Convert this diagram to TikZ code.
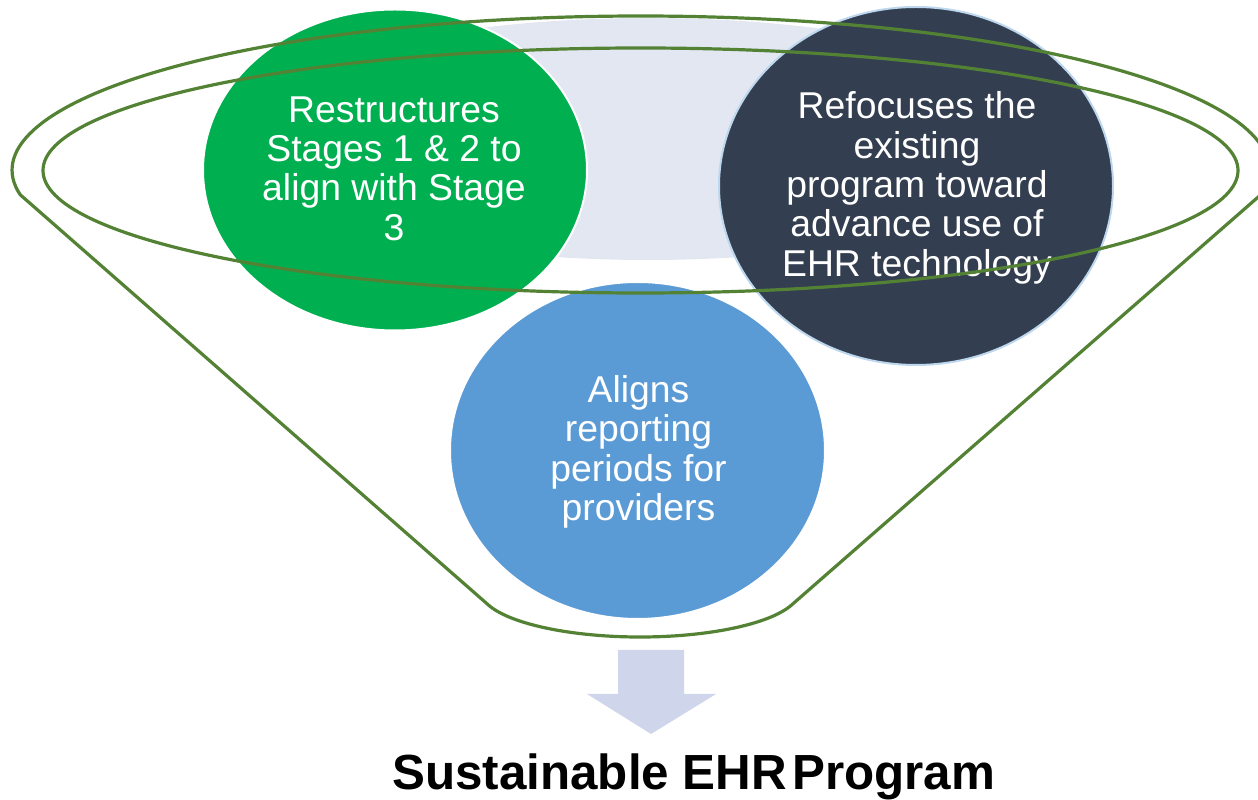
\documentclass[tikz,border=0pt]{standalone}
\usepackage{fontspec}
\setmainfont{Liberation Sans}
\usetikzlibrary{shapes.geometric}
\definecolor{funnelgreen}{RGB}{84,130,53}
\definecolor{bubblegreen}{RGB}{0,176,80}
\definecolor{bubbledark}{RGB}{51,63,80}
\definecolor{bubbleblue}{RGB}{91,155,213}
\definecolor{darkrim}{RGB}{189,215,238}
\definecolor{bowlfill}{RGB}{227,231,242}
\definecolor{arrowfill}{RGB}{207,213,234}
\begin{document}
\begin{tikzpicture}[x=0.75pt,y=0.75pt,
  bubble/.style={ellipse, inner sep=0pt, outer sep=0pt, line width=1.5pt},
  bubbletext/.style={text=white, align=center, inner sep=0pt,
    font=\fontsize{28pt}{29.5pt}\selectfont},
  funnel/.style={draw=funnelgreen, line width=2.4pt, line join=round}]
\useasboundingbox (0,0) rectangle (1258,800);
\clip (0,0) rectangle (1258,800);
% bowl fill
\fill[bowlfill] (648,661) ellipse [x radius=420, y radius=121];
% bubbles
\node[bubble, fill=bubblegreen, draw=white, minimum width=288pt, minimum height=240.75pt] (g) at (395,630) {};
\node[bubble, fill=bubbledark, draw=darkrim, minimum width=295.5pt, minimum height=268.5pt] (d) at (916,614) {};
\node[bubble, fill=bubbleblue, draw=white, minimum width=281.25pt, minimum height=252.75pt] (b) at (637.5,349.5) {};
\node[bubbletext] (gt) at (394,631.5) {Restructures\\Stages 1 \& 2 to\\align with Stage\\3};
\node[bubbletext] (dt) at (917,612) {Refocuses the\\existing\\program toward\\advance use of\\EHR technology};
\node[bubbletext] (bt) at (638.5,348) {Aligns\\reporting\\periods for\\providers};
% funnel outline
\coordinate (fl) at (20.08,605.38);
\coordinate (bl) at (487.0,196.26);
\coordinate (fr) at (1260.92,605.38);
\draw[funnel] (fl) -- (bl) arc[start angle=197, end angle=343, x radius=160, y radius=47]
  -- (fr) arc[start angle=-9.2, end angle=189.2, x radius=628.5, y radius=154] -- cycle;
\draw[funnel] (640.5,629.5) ellipse [x radius=597.5, y radius=122.5];
% arrow
\fill[arrowfill] (618,150) -- (684,150) -- (684,106) -- (716,106) -- (651,66) -- (587,106) -- (618,106) -- cycle;
% title
\node[anchor=base west, inner sep=0pt, font=\bfseries\fontsize{37pt}{41pt}\selectfont] (title) at (392,10)
  {Sustainable EHR\hspace{4pt}Program};
\end{tikzpicture}
\end{document}
